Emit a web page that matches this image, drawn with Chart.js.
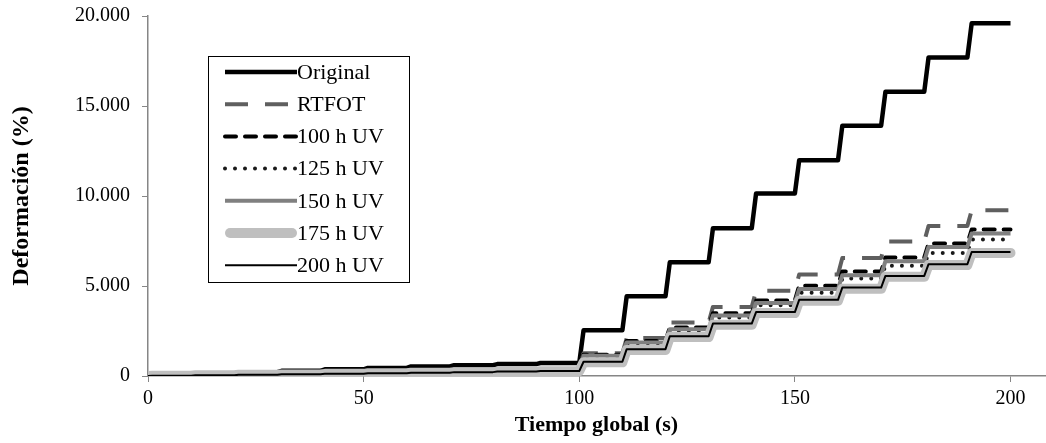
<!DOCTYPE html>
<html>
<head>
<meta charset="utf-8">
<script src="https://cdn.jsdelivr.net/npm/chart.js@4.4.1/dist/chart.umd.min.js"></script>
<style>
html, body { margin: 0; padding: 0; background: #fff; }
#wrap { width: 1046px; height: 443px; }
</style>
</head>
<body>
<div id="wrap"><canvas id="chart" width="1046" height="443"></canvas></div>
<script>
// MSCR creep curves: 20 cycles of 10 s (1 s load + 9 s rest)
const cycleStart = [0, 10, 20, 30, 40, 50, 60, 70, 80, 90, 100, 110, 120, 130, 140, 150, 160, 170, 180, 190];
const loadTime = 1;
const cycleTime = 10;

// strain at the end of each cycle
const original = [50, 130, 210, 290, 370, 450, 530, 600, 660, 720,
    2540, 4430, 6320, 8210, 10140, 11990, 13900, 15790, 17700, 19600];
const rtfot = [30, 65, 100, 135, 170, 205, 240, 275, 310, 345,
    1260, 2110, 2970, 3840, 4730, 5640, 6550, 7470, 8340, 9210];
const uv100 = [25, 60, 95, 130, 160, 195, 230, 265, 300, 330,
    1180, 1950, 2700, 3490, 4200, 5020, 5800, 6580, 7360, 8140];
const uv125 = [25, 55, 90, 120, 155, 185, 220, 250, 285, 315,
    1100, 1820, 2520, 3250, 3930, 4630, 5410, 6130, 6840, 7585];
const uv150 = [25, 58, 92, 125, 158, 190, 225, 258, 292, 325,
    1130, 1860, 2600, 3360, 4060, 4830, 5600, 6380, 7170, 7920];
const uv175 = [15, 40, 65, 90, 120, 150, 180, 210, 240, 270,
    760, 1450, 2160, 2850, 3500, 4180, 4850, 5510, 6160, 6840];
const uv200 = [15, 40, 65, 95, 125, 155, 185, 215, 245, 275,
    790, 1490, 2210, 2910, 3550, 4230, 4910, 5560, 6210, 6890];

const xTicks = [0, 50, 100, 150, 200];
const yTicks = [0, 5000, 10000, 15000, 20000];

function steps(values) {
    const pts = [{ x: 0, y: 0 }];
    values.forEach((v, i) => {
        pts.push({ x: cycleStart[i] + loadTime, y: v });
        pts.push({ x: cycleStart[i] + cycleTime, y: v });
    });
    return pts;
}

const FONT = '"Liberation Serif", "Times New Roman", serif';

function ds(label, values, color, width, dash, cap, order) {
    return {
        label: label,
        data: steps(values),
        borderColor: color,
        borderWidth: width,
        borderDash: dash,
        borderCapStyle: cap,
        borderJoinStyle: 'round',
        pointRadius: 0,
        tension: 0,
        fill: false,
        clip: 0,
        order: order
    };
}

const datasets = [
    ds('Original', original, '#000000', 4.5, [], 'butt', 6),
    ds('RTFOT', rtfot, '#5f5f5f', 4, [23, 17], 'butt', 5),
    ds('100 h UV', uv100, '#000000', 4, [11, 9], 'round', 4),
    ds('125 h UV', uv125, '#1a1a1a', 4, [0, 10], 'round', 3),
    ds('150 h UV', uv150, '#808080', 4, [], 'butt', 2),
    ds('175 h UV', uv175, '#bfbfbf', 10, [], 'round', 1),
    ds('200 h UV', uv200, '#000000', 2, [], 'butt', 0)
];

// legend box drawn inside the plot, like the original
const boxLegend = {
    id: 'boxLegend',
    afterDraw(chart) {
        const ctx = chart.ctx;
        const left = 208, top = 56, w = 201, h = 226;
        ctx.save();
        ctx.fillStyle = '#fff';
        ctx.fillRect(left, top, w, h);
        ctx.strokeStyle = '#000';
        ctx.lineWidth = 1;
        ctx.strokeRect(left + 0.5, top + 0.5, w, h);
        ctx.font = '22px ' + FONT;
        ctx.textBaseline = 'middle';
        ctx.textAlign = 'left';
        chart.data.datasets.forEach((d, i) => {
            const y = top + 16 + i * 32.2;
            ctx.beginPath();
            ctx.strokeStyle = d.borderColor;
            ctx.lineWidth = d.borderWidth;
            ctx.setLineDash(d.borderDash);
            ctx.lineCap = d.borderCapStyle;
            const x0 = d.borderWidth > 6 ? 230 : 225;
            const x1 = d.borderWidth > 6 ? 292 : 297;
            ctx.moveTo(x0, y);
            ctx.lineTo(x1, y);
            ctx.stroke();
            ctx.setLineDash([]);
            ctx.fillStyle = '#000';
            ctx.fillText(d.label, 297, y + 1);
        });
        ctx.restore();
    }
};

new Chart(document.getElementById('chart'), {
    type: 'line',
    data: { datasets: datasets },
    plugins: [boxLegend],
    options: {
        responsive: false,
        animation: false,
        devicePixelRatio: 1,
        layout: { padding: { top: 16, right: 1, left: 0, bottom: 0 } },
        plugins: { legend: { display: false }, tooltip: { enabled: false } },
        scales: {
            x: {
                type: 'linear',
                min: 0,
                max: 208,
                afterBuildTicks: s => { s.ticks = xTicks.map(v => ({ value: v })); },
                afterFit: s => { s.height = 67; },
                grid: { drawOnChartArea: false, color: '#868686', tickLength: 6 },
                border: { color: '#868686', width: 1.5 },
                ticks: { color: '#000', font: { family: FONT, size: 20 }, padding: 5, maxRotation: 0 },
                title: {
                    display: true, text: 'Tiempo global (s)', color: '#000',
                    font: { family: FONT, size: 22, weight: 'bold' },
                    padding: { top: 0, bottom: 4 }
                }
            },
            y: {
                min: 0,
                max: 20000,
                afterBuildTicks: s => { s.ticks = yTicks.map(v => ({ value: v })); },
                afterFit: s => { s.width = 148; s.paddingTop = 0; s.paddingBottom = 0; },
                grid: { drawOnChartArea: false, color: '#868686', tickLength: 6 },
                border: { color: '#868686', width: 1.5 },
                ticks: {
                    color: '#000', font: { family: FONT, size: 20 }, padding: 12,
                    callback: v => v === 0 ? '0' : (v / 1000) + '.000'
                },
                title: {
                    display: true, text: 'Deformación (%)', color: '#000',
                    font: { family: FONT, size: 24, weight: 'bold' },
                    padding: { top: 7, bottom: 0 }
                }
            }
        }
    }
});
</script>
</body>
</html>
